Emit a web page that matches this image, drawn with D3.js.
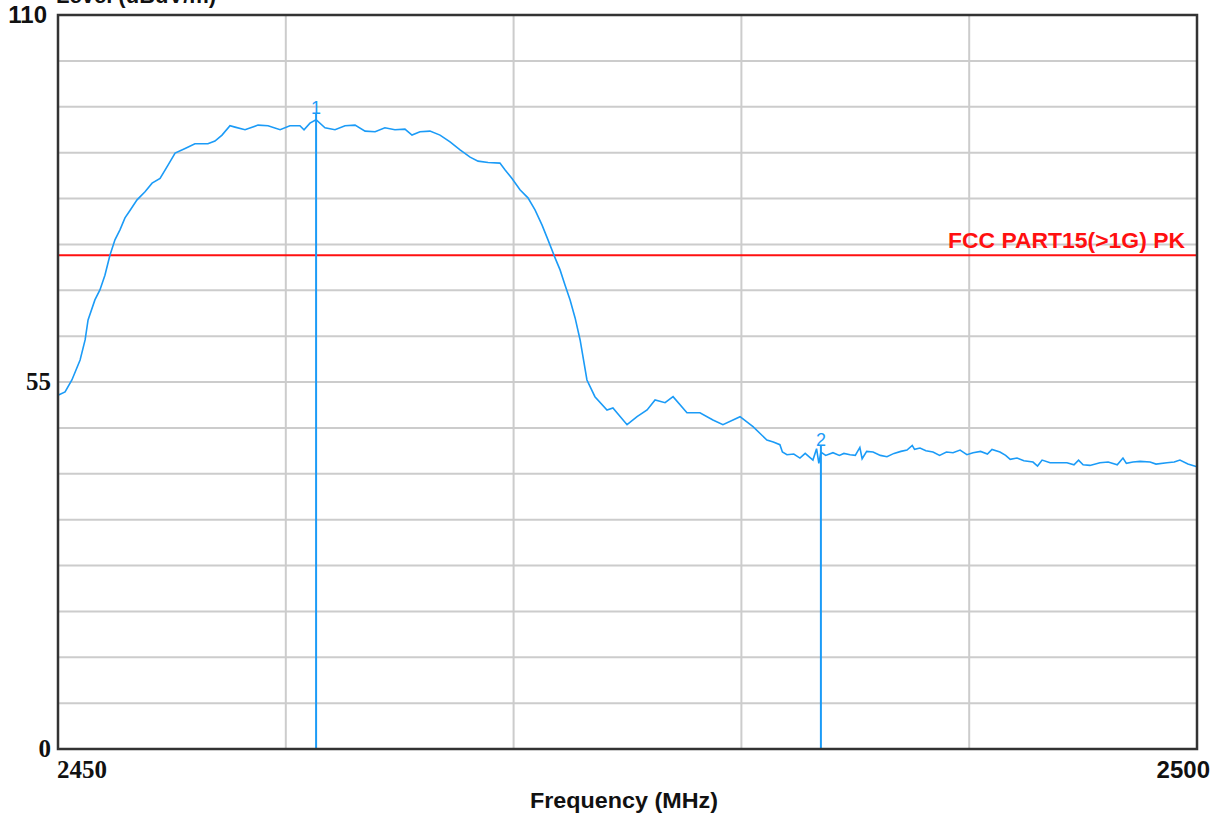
<!DOCTYPE html>
<html>
<head>
<meta charset="utf-8">
<script src="https://cdn.jsdelivr.net/npm/d3@7"></script>
<style>
  body { margin: 0; background: #fff; }
  svg { display: block; }
</style>
</head>
<body>
<svg width="1221" height="813"></svg>
<script>
// frequency (MHz) and level (dBuV/m)
const freqs = [2450.00, 2450.31, 2450.61, 2450.97, 2451.19, 2451.32, 2451.62, 2451.84, 2452.06, 2452.28,
  2452.50, 2452.72, 2452.94, 2453.16, 2453.47, 2453.82, 2454.13, 2454.48, 2454.83, 2455.14,
  2455.58, 2456.01, 2456.58, 2456.89, 2457.20, 2457.55, 2457.77, 2458.21, 2458.78, 2459.22,
  2459.75, 2460.18, 2460.62, 2460.80, 2461.06, 2461.33, 2461.72, 2462.16, 2462.60, 2463.04,
  2463.48, 2463.92, 2464.35, 2464.79, 2465.23, 2465.54, 2465.89, 2466.33, 2466.77, 2467.21,
  2467.65, 2468.09, 2468.44, 2468.88, 2469.40, 2469.62, 2469.93, 2470.28, 2470.63, 2470.94,
  2471.25, 2471.51, 2471.82, 2472.04, 2472.26, 2472.48, 2472.70, 2472.92, 2473.22, 2473.57,
  2474.10, 2474.36, 2474.98, 2475.42, 2475.86, 2476.21, 2476.65, 2477.00, 2477.61, 2478.18,
  2478.75, 2479.19, 2479.94, 2480.51, 2481.12, 2481.40, 2481.69, 2481.80, 2482.00, 2482.30,
  2482.57, 2482.80, 2483.14, 2483.30, 2483.40, 2483.49, 2483.70, 2484.02, 2484.30, 2484.50,
  2484.77, 2485.00, 2485.20, 2485.30, 2485.50, 2485.78, 2486.10, 2486.39, 2486.70, 2487.00,
  2487.27, 2487.50, 2487.60, 2487.84, 2488.10, 2488.41, 2488.70, 2489.00, 2489.29, 2489.60,
  2489.90, 2490.17, 2490.50, 2490.80, 2491.00, 2491.35, 2491.60, 2491.80, 2492.10, 2492.40,
  2492.80, 2493.00, 2493.20, 2493.55, 2493.90, 2494.29, 2494.60, 2494.80, 2495.00, 2495.30,
  2495.74, 2496.10, 2496.50, 2496.75, 2496.90, 2497.19, 2497.50, 2497.94, 2498.20, 2498.68,
  2499.00, 2499.25, 2499.60, 2500.00];
const levels = [53.0, 53.5, 55.3, 58.3, 61.3, 64.3, 67.3, 68.8, 71.0, 74.0,
  76.3, 77.8, 79.6, 80.7, 82.3, 83.5, 84.8, 85.5, 87.5, 89.3,
  90.0, 90.7, 90.7, 91.1, 92.0, 93.4, 93.2, 92.8, 93.5, 93.4,
  92.8, 93.4, 93.4, 92.8, 93.8, 94.3, 93.1, 92.8, 93.4, 93.5,
  92.6, 92.5, 93.1, 92.8, 92.9, 92.0, 92.5, 92.6, 92.0, 91.0,
  89.8, 88.7, 88.1, 87.9, 87.8, 86.8, 85.5, 83.8, 82.6, 80.8,
  78.5, 76.3, 73.6, 71.8, 69.5, 67.3, 64.6, 61.3, 55.3, 52.8,
  50.8, 51.1, 48.6, 49.8, 50.8, 52.3, 51.9, 52.8, 50.4, 50.4,
  49.3, 48.6, 49.8, 48.3, 46.3, 46.0, 45.6, 44.5, 44.1, 44.2,
  43.6, 44.3, 43.3, 45.0, 42.8, 44.5, 44.0, 44.4, 44.0, 44.3,
  44.1, 44.0, 45.2, 43.5, 44.6, 44.5, 44.0, 43.8, 44.3, 44.6,
  44.8, 45.5, 44.9, 45.1, 44.7, 44.5, 44.0, 44.5, 44.4, 44.8,
  44.1, 44.4, 44.6, 44.2, 44.9, 44.5, 44.0, 43.4, 43.6, 43.2,
  43.0, 42.4, 43.3, 42.9, 42.9, 42.9, 42.6, 43.3, 42.6, 42.5,
  42.9, 43.0, 42.6, 43.6, 42.8, 43.0, 43.1, 43.0, 42.7, 42.9,
  43.0, 43.3, 42.7, 42.3];

const markerNames = ['1', '2'];
const markerFreqs = [2461.33, 2483.49];
const markerLevels = [94.3, 44.5];

const limitName = 'FCC PART15(>1G) PK';
const limitLevel = 74;

const yTicks = [0, 55, 110];
const xTicks = [2450, 2500];

const svg = d3.select('svg');
const margin = {top: 15, right: 24, bottom: 64, left: 58};
const width = 1221 - margin.left - margin.right;
const height = 813 - margin.top - margin.bottom;

const x = d3.scaleLinear().domain([2450, 2500]).range([margin.left, margin.left + width]);
const y = d3.scaleLinear().domain([0, 110]).range([margin.top + height, margin.top]);

const traceColor = '#1b9bf7';
const sans = 'Arial, "Liberation Sans", sans-serif';
const serif = '"Liberation Serif", "Times New Roman", serif';

// grid
const grid = svg.append('g');
grid.selectAll('.hg')
    .data(d3.range(1, 16).map(i => i * 110 / 16))
  .enter().append('line')
    .attr('x1', x(2450)).attr('x2', x(2500))
    .attr('y1', d => y(d)).attr('y2', d => y(d))
    .attr('stroke', '#cccccc').attr('stroke-width', 2);
grid.selectAll('.vg')
    .data([2460, 2470, 2480, 2490])
  .enter().append('line')
    .attr('x1', d => x(d)).attr('x2', d => x(d))
    .attr('y1', y(0)).attr('y2', y(110))
    .attr('stroke', '#cccccc').attr('stroke-width', 2);

// limit line
svg.append('line')
    .attr('x1', x(2450)).attr('x2', x(2500))
    .attr('y1', y(limitLevel)).attr('y2', y(limitLevel))
    .attr('stroke', '#ff1010').attr('stroke-width', 2);
svg.append('text')
    .attr('x', x(2500) - 12).attr('y', y(limitLevel) - 7)
    .attr('text-anchor', 'end')
    .style('font-family', sans)
    .style('font-weight', 'bold').style('font-size', '22px')
    .attr('textLength', 237).attr('lengthAdjust', 'spacingAndGlyphs')
    .attr('fill', '#ff1010')
    .text(limitName);

// trace
const data = freqs.map((f, i) => ({f: f, v: levels[i]}));
const line = d3.line().x(d => x(d.f)).y(d => y(d.v));
svg.append('path')
    .datum(data)
    .attr('d', line)
    .attr('fill', 'none')
    .attr('stroke', traceColor)
    .attr('stroke-width', 1.6);

// markers
markerNames.forEach((m, i) => {
  const mx = x(markerFreqs[i]);
  const my = y(markerLevels[i]);
  svg.append('line')
      .attr('x1', mx).attr('x2', mx)
      .attr('y1', y(0)).attr('y2', my - 6)
      .attr('stroke', traceColor).attr('stroke-width', 2);
  svg.append('text')
      .attr('x', mx).attr('y', my - 6)
      .attr('text-anchor', 'middle')
      .style('font-family', sans)
      .style('font-size', '18px')
      .attr('fill', traceColor)
      .text(m);
});

// frame
svg.append('rect')
    .attr('x', x(2450)).attr('y', y(110))
    .attr('width', x(2500) - x(2450)).attr('height', y(0) - y(110))
    .attr('fill', 'none').attr('stroke', '#333').attr('stroke-width', 2.5);

// tick labels
svg.selectAll('.yt')
    .data(yTicks)
  .enter().append('text')
    .attr('x', d => d === 110 ? margin.left - 11 : margin.left - 7)
    .attr('y', d => y(d) + 8)
    .attr('text-anchor', 'end')
    .style('font-family', d => d === 110 ? sans : serif)
    .style('font-weight', 'bold')
    .style('font-size', d => d === 110 ? '24px' : '25px')
    .attr('fill', '#111')
    .text(d => d);

svg.selectAll('.xt')
    .data(xTicks)
  .enter().append('text')
    .attr('x', d => d === 2450 ? x(d) - 1 : x(d) + 13)
    .attr('y', y(0) + 29)
    .attr('text-anchor', d => d === 2450 ? 'start' : 'end')
    .style('font-family', d => d === 2450 ? serif : sans)
    .style('font-weight', 'bold')
    .style('font-size', d => d === 2450 ? '25px' : '24px')
    .attr('fill', '#111')
    .text(d => d);

// axis titles
svg.append('text')
    .attr('x', 624).attr('y', 808)
    .attr('text-anchor', 'middle')
    .style('font-family', sans)
    .style('font-weight', 'bold').style('font-size', '22px')
    .attr('textLength', 188).attr('lengthAdjust', 'spacingAndGlyphs')
    .attr('fill', '#111')
    .text('Frequency (MHz)');

svg.append('text')
    .attr('x', 56).attr('y', 3)
    .style('font-family', sans)
    .style('font-weight', 'bold').style('font-size', '22px')
    .attr('fill', '#111')
    .text('Level (dBuV/m)');
</script>
</body>
</html>
